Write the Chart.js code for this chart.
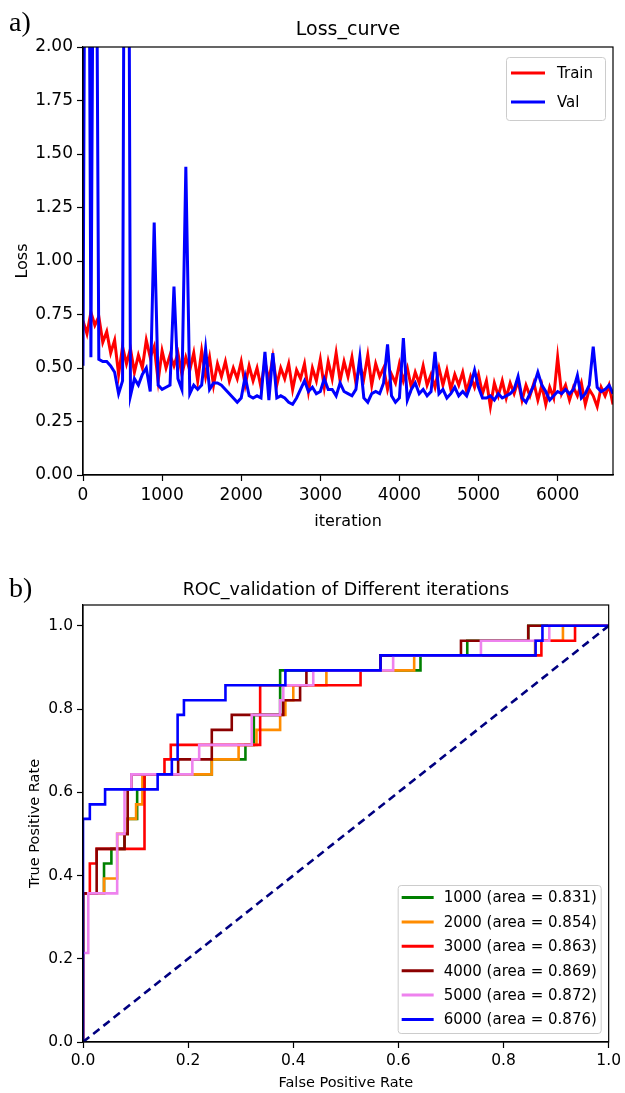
<!DOCTYPE html>
<html>
<head>
<meta charset="utf-8">
<script src="https://cdn.jsdelivr.net/npm/chart.js@4.4.1/dist/chart.umd.min.js"></script>
<style>
  body { margin: 0; background: #fff; width: 625px; height: 1093px; position: relative; overflow: hidden; }
  canvas { position: absolute; left: 0; }
  .tag { position: absolute; font-family: 'Liberation Serif', serif; font-size: 28px; line-height: 28px; color: #000; z-index: 2; }
</style>
</head>
<body>
<canvas id="lossChart" width="625" height="545" style="top:0"></canvas>
<canvas id="rocChart" width="625" height="548" style="top:545px"></canvas>
<div class="tag" style="left:9px; top:8px">a)</div>
<div class="tag" style="left:9px; top:574px">b)</div>
<script>
// loss values, one every 50 iterations (0 .. 6700)
const trainLoss = [
  0.72, 0.66, 0.76, 0.70, 0.74, 0.62, 0.67, 0.57, 0.63, 0.47, 0.60, 0.52, 0.59, 0.48, 0.56, 0.50, 0.63, 0.55, 0.60, 0.44,
  0.58, 0.50, 0.56, 0.51, 0.57, 0.47, 0.55, 0.49, 0.57, 0.44, 0.58, 0.46, 0.55, 0.42, 0.52, 0.46, 0.53, 0.44, 0.50, 0.45,
  0.53, 0.42, 0.51, 0.44, 0.50, 0.41, 0.53, 0.44, 0.55, 0.42, 0.50, 0.45, 0.52, 0.40, 0.49, 0.45, 0.52, 0.39, 0.50, 0.44,
  0.54, 0.41, 0.53, 0.45, 0.57, 0.44, 0.53, 0.46, 0.55, 0.43, 0.51, 0.45, 0.56, 0.42, 0.52, 0.46, 0.50, 0.40, 0.47, 0.43,
  0.52, 0.44, 0.50, 0.41, 0.48, 0.43, 0.51, 0.42, 0.47, 0.41, 0.50, 0.42, 0.49, 0.40, 0.47, 0.42, 0.48, 0.39, 0.46, 0.41,
  0.47, 0.38, 0.44, 0.32, 0.43, 0.37, 0.44, 0.36, 0.43, 0.38, 0.44, 0.35, 0.42, 0.37, 0.43, 0.35, 0.42, 0.33, 0.41, 0.36,
  0.55, 0.38, 0.42, 0.35, 0.41, 0.37, 0.43, 0.33, 0.40, 0.37, 0.32, 0.41, 0.37, 0.42, 0.33
];
const valLoss = [
  0.51, 5.2, 0.55, 4.1, 0.54, 0.53, 0.53, 0.51, 0.48, 0.38, 0.44, 6.0, 0.37, 0.45, 0.42, 0.47, 0.50, 0.39, 1.18, 0.42,
  0.40, 0.41, 0.42, 0.88, 0.45, 0.40, 1.44, 0.38, 0.42, 0.40, 0.42, 0.59, 0.40, 0.43, 0.43, 0.42, 0.40, 0.38, 0.36, 0.34,
  0.36, 0.46, 0.37, 0.36, 0.37, 0.36, 0.575, 0.35, 0.57, 0.36, 0.37, 0.36, 0.34, 0.33, 0.36, 0.40, 0.44, 0.39, 0.41, 0.38,
  0.39, 0.45, 0.40, 0.40, 0.37, 0.43, 0.39, 0.38, 0.37, 0.40, 0.55, 0.36, 0.34, 0.38, 0.39, 0.38, 0.43, 0.61, 0.37, 0.34,
  0.36, 0.64, 0.35, 0.40, 0.43, 0.38, 0.40, 0.37, 0.39, 0.575, 0.38, 0.40, 0.36, 0.38, 0.41, 0.37, 0.39, 0.37, 0.42, 0.49,
  0.41, 0.36, 0.36, 0.37, 0.35, 0.38, 0.36, 0.37, 0.38, 0.40, 0.46, 0.36, 0.34, 0.38, 0.42, 0.48, 0.42, 0.39, 0.35, 0.37,
  0.39, 0.38, 0.40, 0.38, 0.40, 0.465, 0.36, 0.38, 0.42, 0.60, 0.41, 0.39, 0.40, 0.42, 0.38
];
const iterations = trainLoss.map((_, i) => i * 50);
const lossXTicks = [0, 1000, 2000, 3000, 4000, 5000, 6000];
const lossYTicks = [0, 0.25, 0.5, 0.75, 1.0, 1.25, 1.5, 1.75, 2.0];

// ROC corner points per checkpoint
const rocLabels = ['1000 (area = 0.831)', '2000 (area = 0.854)', '3000 (area = 0.863)',
                   '4000 (area = 0.869)', '5000 (area = 0.872)', '6000 (area = 0.876)'];
const fpr1000 = [0, 0, 0.04, 0.04, 0.054, 0.054, 0.079, 0.079, 0.085, 0.085, 0.103, 0.103, 0.117, 0.117, 0.245, 0.245, 0.309, 0.309, 0.325, 0.325, 0.375, 0.375, 0.642, 0.642, 0.731, 0.731, 0.847, 0.847, 1];
const tpr1000 = [0, 0.357, 0.357, 0.429, 0.429, 0.464, 0.464, 0.5, 0.5, 0.536, 0.536, 0.607, 0.607, 0.643, 0.643, 0.679, 0.679, 0.714, 0.714, 0.786, 0.786, 0.893, 0.893, 0.929, 0.929, 0.964, 0.964, 1, 1];
const fpr2000 = [0, 0, 0.04, 0.04, 0.065, 0.065, 0.085, 0.085, 0.101, 0.101, 0.113, 0.113, 0.245, 0.245, 0.296, 0.296, 0.33, 0.33, 0.375, 0.375, 0.385, 0.385, 0.40, 0.40, 0.463, 0.463, 0.63, 0.63, 0.86, 0.86, 0.913, 0.913, 1];
const tpr2000 = [0, 0.357, 0.357, 0.393, 0.393, 0.5, 0.5, 0.536, 0.536, 0.571, 0.571, 0.643, 0.643, 0.679, 0.679, 0.714, 0.714, 0.75, 0.75, 0.786, 0.786, 0.821, 0.821, 0.857, 0.857, 0.893, 0.893, 0.929, 0.929, 0.964, 0.964, 1, 1];
const fpr3000 = [0, 0, 0.013, 0.013, 0.026, 0.026, 0.117, 0.117, 0.155, 0.155, 0.167, 0.167, 0.337, 0.337, 0.528, 0.528, 0.566, 0.566, 0.872, 0.872, 0.936, 0.936, 1];
const tpr3000 = [0, 0.357, 0.357, 0.429, 0.429, 0.464, 0.464, 0.643, 0.643, 0.679, 0.679, 0.714, 0.714, 0.857, 0.857, 0.893, 0.893, 0.929, 0.929, 0.964, 0.964, 1, 1];
const fpr4000 = [0, 0, 0.026, 0.026, 0.079, 0.079, 0.085, 0.085, 0.092, 0.092, 0.181, 0.181, 0.245, 0.245, 0.283, 0.283, 0.381, 0.381, 0.413, 0.413, 0.425, 0.425, 0.566, 0.566, 0.719, 0.719, 0.847, 0.847, 1];
const tpr4000 = [0, 0.357, 0.357, 0.464, 0.464, 0.5, 0.5, 0.607, 0.607, 0.643, 0.643, 0.679, 0.679, 0.75, 0.75, 0.786, 0.786, 0.821, 0.821, 0.857, 0.857, 0.893, 0.893, 0.929, 0.929, 0.964, 0.964, 1, 1];
const fpr5000 = [0, 0, 0.01, 0.01, 0.065, 0.065, 0.079, 0.079, 0.092, 0.092, 0.208, 0.208, 0.221, 0.221, 0.321, 0.321, 0.375, 0.375, 0.381, 0.381, 0.438, 0.438, 0.59, 0.59, 0.757, 0.757, 0.887, 0.887, 1];
const tpr5000 = [0, 0.214, 0.214, 0.357, 0.357, 0.5, 0.5, 0.607, 0.607, 0.643, 0.643, 0.679, 0.679, 0.714, 0.714, 0.786, 0.786, 0.821, 0.821, 0.857, 0.857, 0.893, 0.893, 0.929, 0.929, 0.964, 0.964, 1, 1];
const fpr6000 = [0, 0, 0.013, 0.013, 0.042, 0.042, 0.142, 0.142, 0.169, 0.169, 0.18, 0.18, 0.192, 0.192, 0.271, 0.271, 0.385, 0.385, 0.566, 0.566, 0.861, 0.861, 0.874, 0.874, 1];
const tpr6000 = [0, 0.536, 0.536, 0.571, 0.571, 0.607, 0.607, 0.643, 0.643, 0.679, 0.679, 0.786, 0.786, 0.821, 0.821, 0.857, 0.857, 0.893, 0.893, 0.929, 0.929, 0.964, 0.964, 1, 1];
const chanceX = [0, 1];
const chanceY = [0, 1];
const rocTicks = [0, 0.2, 0.4, 0.6, 0.8, 1.0];

const FONT = 'DejaVu Sans';

function points(xs, ys) {
  return xs.map((x, i) => ({ x: x, y: ys[i] }));
}

// box around the plot + title above it
const frameTitlePlugin = {
  id: 'frameTitle',
  afterDraw(chart, args, opts) {
    const { ctx, chartArea: a } = chart;
    ctx.save();
    ctx.strokeStyle = '#000';
    ctx.lineWidth = 1.2;
    ctx.strokeRect(a.left, a.top, a.right - a.left, a.bottom - a.top);
    ctx.fillStyle = '#000';
    ctx.font = opts.size + 'px "' + FONT + '"';
    ctx.textAlign = 'center';
    ctx.textBaseline = 'alphabetic';
    ctx.fillText(opts.text, (a.left + a.right) / 2, opts.y);
    ctx.restore();
  }
};

// matplotlib style legend inside the plot
const boxLegendPlugin = {
  id: 'boxLegend',
  afterDraw(chart, args, o) {
    const { ctx, chartArea: a } = chart;
    const items = chart.data.datasets.filter(d => d.label);
    const x = a.right - o.right - o.width;
    const y = o.fromBottom ? a.bottom - o.bottom - o.height : a.top + o.top;
    ctx.save();
    ctx.fillStyle = 'rgba(255,255,255,0.85)';
    ctx.strokeStyle = '#cccccc';
    ctx.lineWidth = 1;
    ctx.beginPath();
    ctx.roundRect(x + 0.5, y + 0.5, o.width, o.height, 3);
    ctx.fill();
    ctx.stroke();
    ctx.font = o.size + 'px "' + FONT + '"';
    ctx.textBaseline = 'middle';
    ctx.textAlign = 'left';
    items.forEach((d, i) => {
      const cy = y + o.first + i * o.row;
      ctx.strokeStyle = d.borderColor;
      ctx.lineWidth = 3;
      ctx.beginPath();
      ctx.moveTo(x + o.lineX, cy);
      ctx.lineTo(x + o.lineX + o.lineLen, cy);
      ctx.stroke();
      ctx.fillStyle = '#000';
      ctx.fillText(d.label, x + o.textX, cy + 1);
    });
    ctx.restore();
  }
};

function axis(size, tickList, fmt, titleText, titleSize, titlePad) {
  return {
    type: 'linear',
    afterBuildTicks: s => { s.ticks = tickList.map(v => ({ value: v })); },
    ticks: {
      color: '#000',
      padding: 4,
      font: { family: FONT, size: size },
      callback: v => v.toFixed(fmt)
    },
    grid: { display: true, drawOnChartArea: false, drawTicks: true, tickLength: 6, tickColor: '#000', tickWidth: 1.2 },
    border: { display: true, color: '#000', width: 1.2 },
    title: { display: true, text: titleText, color: '#000', font: { family: FONT, size: titleSize }, padding: titlePad }
  };
}

// a) loss curve
const lossX = axis(17, lossXTicks, 0, 'iteration', 16, { top: 0, bottom: 14 });
lossX.min = 0;
lossX.max = 6700;
lossX.afterFit = s => { s.height = 70; };
const lossY = axis(17, lossYTicks, 2, 'Loss', 16, { top: 13, bottom: 0 });
lossY.min = 0;
lossY.max = 2;
lossY.afterFit = s => { s.width = 83; };

new Chart(document.getElementById('lossChart'), {
  type: 'line',
  data: {
    datasets: [
      { label: 'Train', data: points(iterations, trainLoss), borderColor: '#ff0000', borderWidth: 3, pointRadius: 0, tension: 0, order: 2 },
      { label: 'Val', data: points(iterations, valLoss), borderColor: '#0000ff', borderWidth: 3, pointRadius: 0, tension: 0, order: 1 }
    ]
  },
  options: {
    responsive: false,
    animation: false,
    layout: { padding: { top: 47, right: 12, left: 0, bottom: 0 } },
    plugins: {
      legend: { display: false },
      tooltip: { enabled: false },
      frameTitle: { text: 'Loss_curve', size: 19, y: 35 },
      boxLegend: { width: 99, height: 63, top: 10, right: 8, first: 16, row: 29, lineX: 5, lineLen: 34, textX: 51, size: 15 }
    },
    scales: { x: lossX, y: lossY }
  },
  plugins: [frameTitlePlugin, boxLegendPlugin]
});

// b) ROC curves
const rocX = axis(15.5, rocTicks, 1, 'False Positive Rate', 14.5, { top: 0, bottom: 1 });
rocX.min = 0;
rocX.max = 1;
rocX.afterFit = s => { s.height = 51; };
const rocY = axis(15.5, rocTicks, 1, 'True Positive Rate', 14.5, { top: 27, bottom: 0 });
rocY.min = 0;
rocY.max = 1.05;
rocY.afterFit = s => { s.width = 83; };

const rocStyle = { borderWidth: 2.6, pointRadius: 0, showLine: true, fill: false, tension: 0 };

new Chart(document.getElementById('rocChart'), {
  type: 'scatter',
  data: {
    datasets: [
      Object.assign({ label: rocLabels[0], data: points(fpr1000, tpr1000), borderColor: '#008000', order: 6 }, rocStyle),
      Object.assign({ label: rocLabels[1], data: points(fpr2000, tpr2000), borderColor: '#ff8c00', order: 5 }, rocStyle),
      Object.assign({ label: rocLabels[2], data: points(fpr3000, tpr3000), borderColor: '#ff0000', order: 4 }, rocStyle),
      Object.assign({ label: rocLabels[3], data: points(fpr4000, tpr4000), borderColor: '#8b0000', order: 3 }, rocStyle),
      Object.assign({ label: rocLabels[4], data: points(fpr5000, tpr5000), borderColor: '#ee82ee', order: 2 }, rocStyle),
      Object.assign({ label: rocLabels[5], data: points(fpr6000, tpr6000), borderColor: '#0000ff', order: 1 }, rocStyle),
      { data: points(chanceX, chanceY), borderColor: '#000080', borderWidth: 2.6, borderDash: [8, 5], pointRadius: 0, showLine: true, order: 0 }
    ]
  },
  options: {
    responsive: false,
    animation: false,
    layout: { padding: { top: 60, right: 12, left: 0, bottom: 0 } },
    plugins: {
      legend: { display: false },
      tooltip: { enabled: false },
      frameTitle: { text: 'ROC_validation of Different iterations', size: 17.5, y: 50 },
      boxLegend: { fromBottom: true, width: 203, height: 148, bottom: 9, right: 8, first: 12.5, row: 24.4, lineX: 4, lineLen: 32, textX: 46, size: 15 }
    },
    scales: { x: rocX, y: rocY }
  },
  plugins: [frameTitlePlugin, boxLegendPlugin]
});
</script>
</body>
</html>
